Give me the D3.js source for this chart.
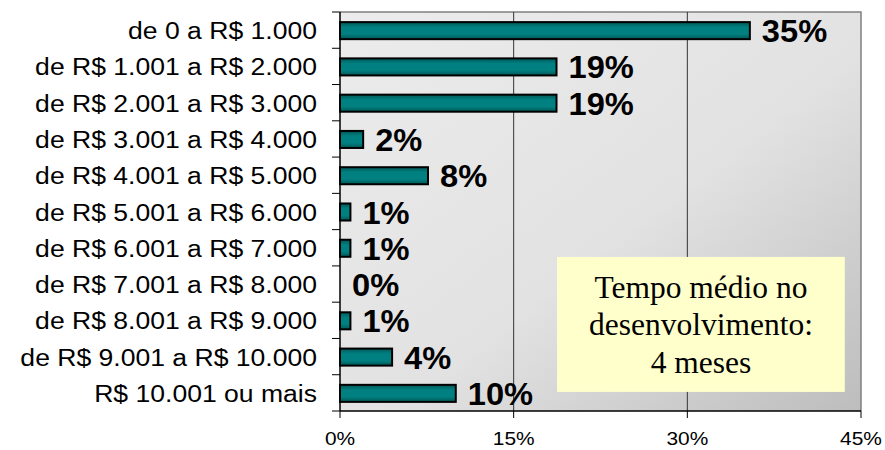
<!DOCTYPE html>
<meta charset="utf-8">
<script src="https://d3js.org/d3.v7.min.js"></script>
<style>
  body { margin: 0; background: #fff; }
  text { font-family: "Liberation Sans", Arial, sans-serif; }
</style>
<div id="my_dataviz"></div>
<script>
// data
var categories = [
  "de 0 a R$ 1.000",
  "de R$ 1.001 a R$ 2.000",
  "de R$ 2.001 a R$ 3.000",
  "de R$ 3.001 a R$ 4.000",
  "de R$ 4.001 a R$ 5.000",
  "de R$ 5.001 a R$ 6.000",
  "de R$ 6.001 a R$ 7.000",
  "de R$ 7.001 a R$ 8.000",
  "de R$ 8.001 a R$ 9.000",
  "de R$ 9.001 a R$ 10.000",
  "R$ 10.001 ou mais"
];
var values = [35.4, 18.7, 18.7, 2.0, 7.6, 0.9, 0.9, 0, 0.9, 4.5, 10.0];
var labels = ["35%", "19%", "19%", "2%", "8%", "1%", "1%", "0%", "1%", "4%", "10%"];
var xTicks = [0, 15, 30, 45];
var noteLines = ["Tempo médio no", "desenvolvimento:", "4 meses"];

var margin = {top: 12, right: 24, bottom: 39, left: 340},
    width = 885 - margin.left - margin.right,
    height = 450 - margin.top - margin.bottom;

var svg = d3.select("#my_dataviz")
  .append("svg")
    .attr("width", 885)
    .attr("height", 450);

var defs = svg.append("defs");
var bg = defs.append("linearGradient").attr("id", "bg")
  .attr("x1", 0).attr("y1", 0).attr("x2", 1).attr("y2", 1);
bg.append("stop").attr("offset", "0").attr("stop-color", "#ececec");
bg.append("stop").attr("offset", "0.55").attr("stop-color", "#e2e2e2");
bg.append("stop").attr("offset", "1").attr("stop-color", "#bdbdbd");

var barGrad = defs.append("linearGradient").attr("id", "bar")
  .attr("x1", 0).attr("y1", 0).attr("x2", 0).attr("y2", 1);
barGrad.append("stop").attr("offset", "0").attr("stop-color", "#005656");
barGrad.append("stop").attr("offset", "0.3").attr("stop-color", "#008080");
barGrad.append("stop").attr("offset", "0.7").attr("stop-color", "#008080");
barGrad.append("stop").attr("offset", "1").attr("stop-color", "#005656");

var g = svg.append("g")
  .attr("transform", "translate(" + margin.left + "," + margin.top + ")");

var x = d3.scaleLinear().domain([0, 45]).range([0, width]);
var y = d3.scaleBand().domain(categories).range([0, height]).padding(0);

// plot area
g.append("rect")
  .attr("width", width).attr("height", height)
  .attr("fill", "url(#bg)");
g.append("path")
  .attr("d", "M0,0H" + width + "V" + height)
  .attr("fill", "none").attr("stroke", "#808080").attr("stroke-width", 1.5);

// gridlines
g.selectAll(".grid")
  .data(xTicks.slice(1, -1))
  .enter().append("line")
    .attr("x1", function(d) { return x(d); })
    .attr("x2", function(d) { return x(d); })
    .attr("y1", 0).attr("y2", height)
    .attr("stroke", "#333").attr("stroke-width", 1);

// note box, placed in data units
var boxLeft = 18.75, boxRight = 43.6, boxMid = (boxLeft + boxRight) / 2;
var boxTop = y(categories[7]) - 9;
g.append("rect")
  .attr("x", x(boxLeft))
  .attr("y", boxTop)
  .attr("width", x(boxRight) - x(boxLeft))
  .attr("height", 135)
  .attr("fill", "#ffffcc");
g.selectAll(".note")
  .data(noteLines)
  .enter().append("text")
    .attr("x", x(boxMid))
    .attr("y", function(d, i) { return boxTop + 41 + i * 37.5; })
    .attr("text-anchor", "middle")
    .style("font-family", "'Liberation Serif', 'Times New Roman', serif")
    .style("font-size", "31.5px")
    .attr("fill", "#000")
    .text(function(d) { return d; });

// bars
var bh = y.bandwidth() * 0.47;
g.selectAll(".bar")
  .data(values)
  .enter().append("rect")
    .attr("x", 0)
    .attr("y", function(d, i) { return y(categories[i]) + y.bandwidth() / 2 - bh / 2 + 0.5; })
    .attr("width", function(d) { return x(d); })
    .attr("height", bh)
    .attr("fill", "url(#bar)")
    .attr("stroke", "#000")
    .attr("stroke-width", function(d) { return d > 0 ? 2 : 0; });

// value labels
g.selectAll(".lbl")
  .data(values)
  .enter().append("text")
    .attr("transform", function(d, i) {
      return "translate(" + (x(d) + 12) + "," + (y(categories[i]) + y.bandwidth() / 2 + 12) + ") scale(1.07,1)";
    })
    .style("font-size", "30.5px")
    .style("font-weight", "bold")
    .attr("fill", "#000")
    .text(function(d, i) { return labels[i]; });

// y axis
g.append("line").attr("x1", 0).attr("x2", 0).attr("y1", 0).attr("y2", height)
  .attr("stroke", "#000").attr("stroke-width", 1.5);
g.selectAll(".ytick")
  .data(d3.range(categories.length + 1))
  .enter().append("line")
    .attr("x1", -8).attr("x2", 0)
    .attr("y1", function(i) { return i * y.step(); })
    .attr("y2", function(i) { return i * y.step(); })
    .attr("stroke", "#000");
g.selectAll(".ylab")
  .data(categories)
  .enter().append("text")
    .attr("transform", function(d) {
      return "translate(-23," + (y(d) + y.bandwidth() / 2 + 9) + ") scale(1.13,1)";
    })
    .attr("text-anchor", "end")
    .style("font-size", "23.5px")
    .attr("fill", "#000")
    .text(function(d) { return d; });

// x axis
g.append("line").attr("x1", 0).attr("x2", width).attr("y1", height).attr("y2", height)
  .attr("stroke", "#000").attr("stroke-width", 1.5);
g.selectAll(".xtick")
  .data(xTicks)
  .enter().append("line")
    .attr("x1", function(d) { return x(d); })
    .attr("x2", function(d) { return x(d); })
    .attr("y1", height).attr("y2", height + 7)
    .attr("stroke", "#000");
g.selectAll(".xlab")
  .data(xTicks)
  .enter().append("text")
    .attr("transform", function(d) {
      return "translate(" + x(d) + "," + (height + 34) + ") scale(1.1,1)";
    })
    .attr("text-anchor", "middle")
    .style("font-size", "19px")
    .attr("fill", "#000")
    .text(function(d) { return d + "%"; });
</script>
